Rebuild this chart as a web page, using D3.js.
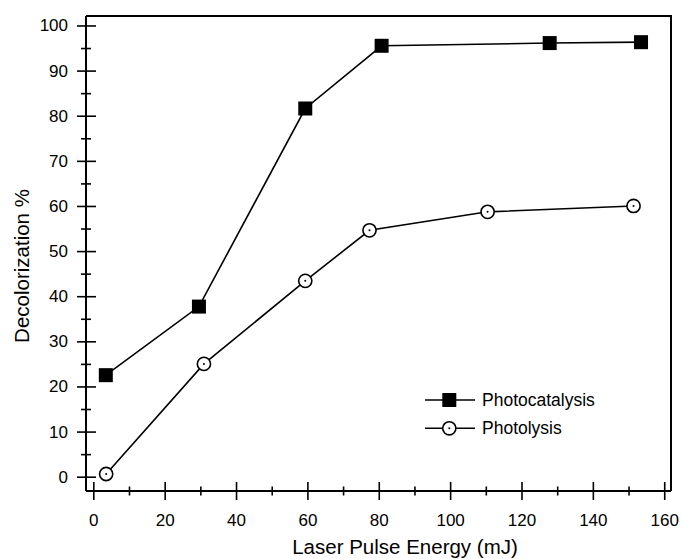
<!DOCTYPE html>
<html>
<head>
<meta charset="utf-8">
<script src="https://cdn.jsdelivr.net/npm/d3@7"></script>
<style>
  body { margin: 0; background: #fff; }
  svg { display: block; font-family: "Liberation Sans", Arial, sans-serif; }
</style>
</head>
<body>
<svg id="chart" width="681" height="559"></svg>
<script>
// values
const catalysisEnergy = [3.5, 29.6, 59.4, 80.8, 127.9, 153.5];
const catalysisValues = [22.5, 37.7, 81.6, 95.5, 96.1, 96.3];
const lysisEnergy = [3.6, 31, 59.4, 77.4, 110.5, 151.4];
const lysisValues = [0.6, 25, 43.4, 54.6, 58.7, 60.0];
const xTickValues = [0, 20, 40, 60, 80, 100, 120, 140, 160];
const yTickValues = [0, 10, 20, 30, 40, 50, 60, 70, 80, 90, 100];
const seriesNames = ["Photocatalysis", "Photolysis"];

const svg = d3.select("#chart");
const plotLeft = 86, plotRight = 671, plotTop = 16, plotBottom = 491;

const x = d3.scaleLinear().domain([-2.05, 161.9]).range([plotLeft, plotRight]);
const y = d3.scaleLinear().domain([-3.17, 102.1]).range([plotBottom, plotTop]);

// frame (top + right), axes drawn below
svg.append("path")
  .attr("d", `M${plotLeft},${plotTop}H${plotRight}V${plotBottom}`)
  .attr("fill", "none")
  .attr("stroke", "#000")
  .attr("stroke-width", 2);

// y axis
const yAxis = svg.append("g")
  .attr("transform", `translate(${plotLeft},0)`)
  .call(d3.axisLeft(y)
    .tickValues(d3.range(0, 101, 5))
    .tickSize(9)
    .tickPadding(9)
    .tickFormat((d) => (yTickValues.includes(d) ? d : "")));
yAxis.select(".domain").attr("stroke-width", 2).attr("d", `M0,${plotTop}V${plotBottom}`);
yAxis.selectAll(".tick line")
  .attr("stroke-width", 1.6)
  .attr("x1", (d) => (d % 10 === 0 ? 10 : 5))
  .attr("x2", (d) => (d % 10 === 0 ? -9 : -5));
yAxis.selectAll(".tick text")
  .attr("font-size", 17)
  .attr("font-family", "Liberation Sans, Arial, sans-serif")
  .attr("fill", "#000");

// x axis
const xAxis = svg.append("g")
  .attr("transform", `translate(0,${plotBottom})`)
  .call(d3.axisBottom(x)
    .tickValues(d3.range(0, 161, 10))
    .tickSize(9)
    .tickPadding(14)
    .tickFormat((d) => (xTickValues.includes(d) ? d : "")));
xAxis.select(".domain").attr("stroke-width", 2).attr("d", `M${plotLeft},0H${plotRight}`);
xAxis.selectAll(".tick line")
  .attr("stroke-width", 1.6)
  .attr("y1", (d) => (d % 20 === 0 ? -9 : -4.5))
  .attr("y2", (d) => (d % 20 === 0 ? 9 : 4.5));
xAxis.selectAll(".tick text")
  .attr("font-size", 17)
  .attr("font-family", "Liberation Sans, Arial, sans-serif")
  .attr("fill", "#000");

// axis titles
svg.append("text")
  .attr("x", 405)
  .attr("y", 554)
  .attr("text-anchor", "middle")
  .attr("font-size", 20.5)
  .text("Laser Pulse Energy (mJ)");

svg.append("text")
  .attr("transform", "translate(29,266) rotate(-90)")
  .attr("text-anchor", "middle")
  .attr("font-size", 20.5)
  .text("Decolorization %");

const line = d3.line().x((d) => x(d[0])).y((d) => y(d[1]));
const catalysis = catalysisEnergy.map((e, i) => [e, catalysisValues[i]]);
const lysis = lysisEnergy.map((e, i) => [e, lysisValues[i]]);

svg.append("path").datum(catalysis)
  .attr("d", line).attr("fill", "none").attr("stroke", "#000").attr("stroke-width", 1.6);
svg.append("path").datum(lysis)
  .attr("d", line).attr("fill", "none").attr("stroke", "#000").attr("stroke-width", 1.6);

const sq = 14;
svg.append("g").selectAll("rect")
  .data(catalysis)
  .join("rect")
  .attr("x", (d) => x(d[0]) - sq / 2)
  .attr("y", (d) => y(d[1]) - sq / 2)
  .attr("width", sq)
  .attr("height", sq)
  .attr("fill", "#000");

const circles = svg.append("g").selectAll("g")
  .data(lysis)
  .join("g")
  .attr("transform", (d) => `translate(${x(d[0])},${y(d[1])})`);
circles.append("circle").attr("r", 6.6).attr("fill", "#fff").attr("stroke", "#000").attr("stroke-width", 1.6);
circles.append("circle").attr("r", 1).attr("fill", "#000");

// legend
const legend = svg.append("g").attr("transform", "translate(425,400)");
const rows = legend.selectAll("g")
  .data(seriesNames)
  .join("g")
  .attr("transform", (d, i) => `translate(0,${i * 28.3})`);
rows.append("line")
  .attr("x1", 0).attr("x2", 50)
  .attr("stroke", "#000").attr("stroke-width", 1.6);
rows.filter((d, i) => i === 0).append("rect")
  .attr("x", 24.3 - sq / 2).attr("y", -sq / 2)
  .attr("width", sq).attr("height", sq).attr("fill", "#000");
rows.filter((d, i) => i === 1).append("circle")
  .attr("cx", 24.3).attr("r", 6.6)
  .attr("fill", "#fff").attr("stroke", "#000").attr("stroke-width", 1.6);
rows.filter((d, i) => i === 1).append("circle")
  .attr("cx", 24.3).attr("r", 1).attr("fill", "#000");
rows.append("text")
  .attr("x", 57)
  .attr("dy", "0.35em")
  .attr("font-size", 17.5)
  .text((d) => d);
</script>
</body>
</html>
